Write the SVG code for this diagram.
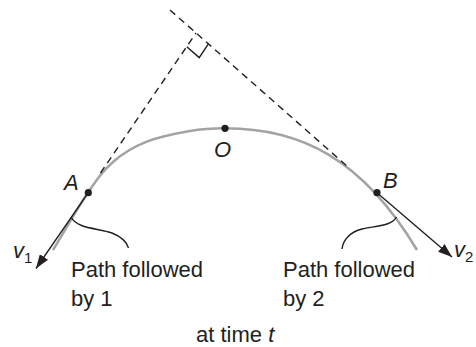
<svg xmlns="http://www.w3.org/2000/svg" width="476" height="347" viewBox="0 0 476 347">
<style>
text{font-family:"Liberation Sans",Arial,sans-serif;fill:#231f20}
.lbl{font-size:22px}
.it{font-style:italic}
.sub{font-size:15px;font-style:normal}
.dash{fill:none;stroke:#231f20;stroke-width:1.4;stroke-dasharray:7 5}
.path{fill:none;stroke:#a3a3a6;stroke-width:2.5}
.thin{fill:none;stroke:#231f20;stroke-width:1.4}
.dot{fill:#231f20}
</style>
<defs>
<marker id="ah" viewBox="0 0 14 10" refX="14" refY="5" markerWidth="14" markerHeight="10" markerUnits="userSpaceOnUse" orient="auto">
<path d="M0,0 L14,5 L0,10 Z" fill="#231f20"/>
</marker>
</defs>
<g id="trajectory">
<path class="path" d="M53,250 C64.67,230.83 77.95,207.22 88,192.5 C98.05,177.78 103.52,170.17 113.3,161.7 C123.08,153.23 133.92,146.82 146.7,141.7 C159.48,136.58 176.95,133.23 190,131 C203.05,128.77 212.78,128.35 225,128.3 C300,128.3 362,158 417,250"/>
</g>
<g id="connectors">
<line class="dash" x1="100.5" y1="173" x2="196" y2="33"/>
<line class="dash" x1="170" y1="10" x2="348" y2="167"/>
<path class="thin" d="M186.8,46.7 L199.2,57.6 L208.4,43.9"/>
<line class="thin" x1="88.3" y1="192.7" x2="36" y2="268.5" marker-end="url(#ah)"/>
<line class="thin" x1="377" y1="192.7" x2="452" y2="257" marker-end="url(#ah)"/>
<path class="thin" d="M71,217 C77,229 98,228 112,233 C122,237 127,243 128.5,248"/>
<path class="thin" d="M396.5,217 C392,226 375,226 362,229 C350,232 343,240 342,249"/>
</g>
<g id="pointA">
<circle class="dot" cx="88.3" cy="192.7" r="3.6"/>
<text class="lbl it" x="64" y="189.5" font-size="21">A</text>
</g>
<g id="pointO">
<circle class="dot" cx="225" cy="128.3" r="3.6"/>
<text class="lbl it" x="214" y="157" font-size="21">O</text>
</g>
<g id="pointB">
<circle class="dot" cx="377" cy="192.7" r="3.6"/>
<text class="lbl it" x="383" y="188" font-size="21">B</text>
</g>
<g id="v1">
<text class="lbl it" x="13" y="258">v<tspan class="sub" dy="5">1</tspan></text>
</g>
<g id="v2">
<text class="lbl it" x="454" y="257">v<tspan class="sub" dy="5">2</tspan></text>
</g>
<g id="label1">
<text class="lbl" x="71" y="276.5">Path followed</text>
<text class="lbl" x="71" y="306">by 1</text>
</g>
<g id="label2">
<text class="lbl" x="283" y="276.5">Path followed</text>
<text class="lbl" x="283" y="306">by 2</text>
</g>
<g id="caption">
<text class="lbl" x="196" y="342">at time <tspan class="it">t</tspan></text>
</g>
</svg>
